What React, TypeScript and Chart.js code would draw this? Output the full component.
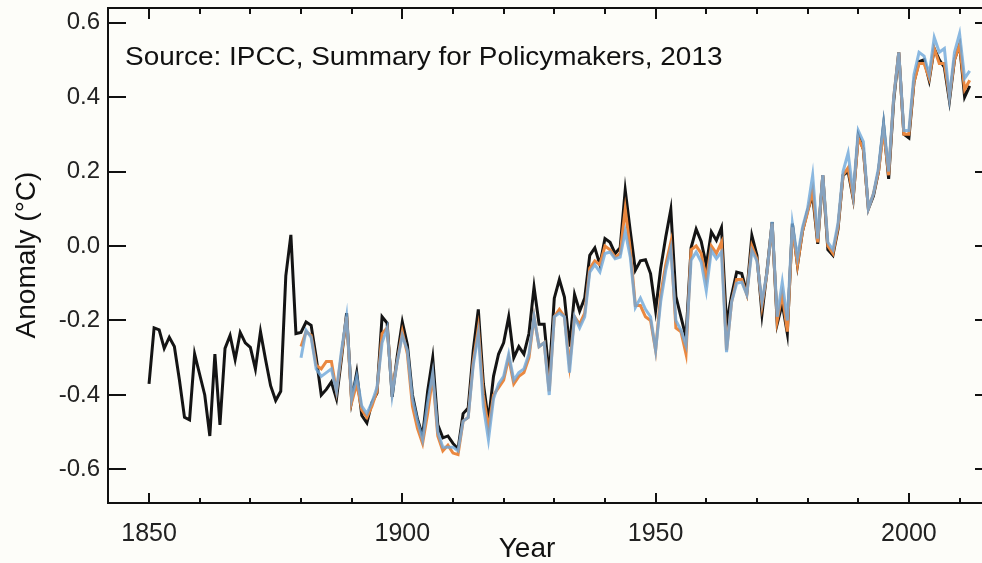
import React, { useEffect, useRef } from "react";
import { Chart, registerables } from "chart.js";

Chart.register(...registerables);

// ---- data ----
const firstYear = 1850;
const seriesStartYear = 1880;

// HadCRUT4-like (black), 1850-2012
const blackSeries = [
  -0.37, -0.22, -0.225, -0.275, -0.245, -0.27, -0.36, -0.46, -0.467, -0.29,
  -0.345, -0.4, -0.51, -0.29, -0.48, -0.275, -0.24, -0.305, -0.232, -0.26,
  -0.272, -0.33, -0.23, -0.305, -0.375, -0.415, -0.39, -0.08, 0.03, -0.235,
  -0.232, -0.204, -0.213, -0.3, -0.4, -0.385, -0.365, -0.41, -0.3, -0.18,
  -0.415, -0.34, -0.455, -0.475, -0.42, -0.395, -0.19, -0.207, -0.405, -0.295,
  -0.204, -0.265, -0.4, -0.465, -0.51, -0.39, -0.3, -0.48, -0.515, -0.51,
  -0.53, -0.545, -0.45, -0.435, -0.28, -0.17, -0.37, -0.47, -0.35, -0.29,
  -0.26, -0.19, -0.3, -0.27, -0.29, -0.235, -0.11, -0.21, -0.21, -0.35,
  -0.14, -0.09, -0.137, -0.27, -0.13, -0.175, -0.14, -0.025, -0.005, -0.05,
  0.02, 0.01, -0.02, -0.005, 0.15, 0.04, -0.065, -0.04, -0.037, -0.074,
  -0.173, -0.06, 0.024, 0.098, -0.135, -0.19, -0.245, -0.005, 0.045, 0.012,
  -0.052, 0.038, 0.015, 0.049, -0.21, -0.132, -0.07, -0.074, -0.125, 0.028,
  -0.025, -0.182, -0.065, 0.064, -0.209, -0.155, -0.235, 0.06, -0.052, 0.04,
  0.095, 0.136, 0.006, 0.19, -0.01, -0.025, 0.045, 0.19, 0.2, 0.127,
  0.297, 0.26, 0.1, 0.135, 0.2, 0.325, 0.18, 0.39, 0.52, 0.3,
  0.29, 0.44, 0.495, 0.5, 0.445, 0.53, 0.5, 0.48, 0.39, 0.5,
  0.54, 0.4, 0.43,
];

// orange series, 1880-2012
const orangeSeries = [
  -0.27, -0.23, -0.24, -0.32, -0.33, -0.31, -0.31, -0.39, -0.29, -0.19,
  -0.42, -0.37, -0.44, -0.46, -0.43, -0.39, -0.235, -0.22, -0.39, -0.31,
  -0.23, -0.29, -0.43, -0.49, -0.53, -0.45, -0.35, -0.51, -0.55, -0.535,
  -0.556, -0.56, -0.47, -0.46, -0.31, -0.22, -0.4, -0.49, -0.4, -0.38,
  -0.36, -0.3, -0.37, -0.35, -0.34, -0.3, -0.19, -0.27, -0.26, -0.39,
  -0.19, -0.17, -0.19, -0.32, -0.19, -0.21, -0.18, -0.06, -0.04, -0.05,
  0.0, -0.01, -0.03, -0.02, 0.1, -0.01, -0.16, -0.16, -0.19, -0.2,
  -0.28, -0.13, -0.05, 0.01, -0.22, -0.23, -0.29, -0.01, 0.0, -0.02,
  -0.09, 0.0, -0.02, 0.01, -0.28, -0.15, -0.09, -0.09, -0.13, 0.0,
  -0.035, -0.16, -0.07, 0.06, -0.2, -0.13, -0.23, 0.05, -0.05, 0.04,
  0.09, 0.15, 0.01, 0.19, 0.0, -0.02, 0.05, 0.19, 0.21, 0.13,
  0.29, 0.26, 0.1, 0.14, 0.2, 0.31, 0.19, 0.4, 0.52, 0.3,
  0.3, 0.44, 0.49, 0.49, 0.45, 0.53, 0.49, 0.49, 0.4, 0.5,
  0.54, 0.42, 0.445,
];

// blue series, 1880-2012
const blueSeries = [
  -0.3, -0.226, -0.245, -0.33, -0.35, -0.34, -0.33, -0.39, -0.28, -0.19,
  -0.41, -0.35, -0.43, -0.45, -0.42, -0.38, -0.26, -0.22, -0.4, -0.31,
  -0.24, -0.28, -0.41, -0.47, -0.52, -0.42, -0.34, -0.5, -0.54, -0.54,
  -0.54, -0.55, -0.47, -0.46, -0.32, -0.235, -0.43, -0.52, -0.41, -0.37,
  -0.35, -0.29, -0.36, -0.34, -0.33, -0.29, -0.19, -0.27, -0.26, -0.4,
  -0.19, -0.18, -0.19, -0.34, -0.19, -0.22, -0.19, -0.07, -0.05, -0.07,
  -0.02, -0.016, -0.034, -0.03, 0.04, -0.03, -0.165, -0.14, -0.17, -0.19,
  -0.28, -0.15, -0.065, -0.007, -0.2, -0.226, -0.267, -0.038, -0.016, -0.043,
  -0.12, -0.012, -0.034, -0.016, -0.285, -0.15, -0.1, -0.097, -0.13, -0.012,
  -0.04, -0.15, -0.07, 0.065, -0.19, -0.097, -0.2, 0.06, -0.03, 0.05,
  0.1, 0.19, 0.02, 0.19, 0.01, -0.01, 0.06, 0.2, 0.25, 0.14,
  0.31, 0.28, 0.1, 0.14, 0.21, 0.33, 0.2, 0.4, 0.52, 0.31,
  0.31, 0.46, 0.52, 0.51, 0.46, 0.56, 0.52, 0.53, 0.4, 0.52,
  0.57, 0.45, 0.47,
];

const yTickValues = [-0.6, -0.4, -0.2, 0.0, 0.2, 0.4, 0.6];
const xLabelYears = [1850, 1900, 1950, 2000];
const decadeTickYears = [
  1850, 1860, 1870, 1880, 1890, 1900, 1910, 1920, 1930, 1940, 1950, 1960,
  1970, 1980, 1990, 2000, 2010,
];

const sourceText = "Source: IPCC, Summary for Policymakers, 2013";
const xTitle = "Year";
const yTitle = "Anomaly (°C)";

const FONT = '"Liberation Sans", Arial, Helvetica, sans-serif';
const BG = "#fdfdf9";

function toPoints(values: number[], start: number) {
  return values.map((v, i) => ({ x: start + i, y: v }));
}

function zeroPadding(scale: any) {
  scale.paddingTop = 0;
  scale.paddingBottom = 0;
  scale.paddingLeft = 0;
  scale.paddingRight = 0;
}

export default function App() {
  const ref = useRef<HTMLCanvasElement>(null);

  useEffect(() => {
    const canvas = ref.current;
    if (!canvas) return;

    const framePlugin = {
      id: "frame",
      beforeDraw(chart: any) {
        const { ctx, width, height } = chart;
        ctx.save();
        ctx.fillStyle = BG;
        ctx.fillRect(0, 0, width, height);
        ctx.restore();
      },
      afterDatasetsDraw(chart: any) {
        const { ctx, chartArea: a, scales } = chart;
        const xs = scales.x;
        const ys = scales.y;
        ctx.save();
        ctx.strokeStyle = "#111";
        ctx.lineWidth = 2;
        ctx.lineCap = "butt";
        ctx.strokeRect(a.left, a.top, a.right - a.left, a.bottom - a.top);
        ctx.beginPath();
        for (const v of yTickValues) {
          const py = Math.round(ys.getPixelForValue(v));
          ctx.moveTo(a.left, py);
          ctx.lineTo(a.left + 18, py);
          ctx.moveTo(a.right, py);
          ctx.lineTo(a.right - 18, py);
        }
        for (const yr of decadeTickYears) {
          const px = Math.round(xs.getPixelForValue(yr));
          const len = yr % 50 === 0 ? 10 : 5;
          ctx.moveTo(px, a.bottom);
          ctx.lineTo(px, a.bottom - len);
          ctx.moveTo(px, a.top);
          ctx.lineTo(px, a.top + len + 1);
        }
        ctx.stroke();

        ctx.fillStyle = "#111";
        ctx.textBaseline = "alphabetic";
        ctx.textAlign = "left";
        ctx.font = `26px ${FONT}`;
        ctx.save();
        ctx.translate(125, 65);
        ctx.scale(1.074, 1);
        ctx.fillText(sourceText, 0, 0);
        ctx.restore();

        ctx.font = `28px ${FONT}`;
        ctx.textAlign = "center";
        ctx.fillText(xTitle, 527, 557);

        ctx.save();
        ctx.translate(35, 255);
        ctx.rotate(-Math.PI / 2);
        ctx.fillText(yTitle, 0, 0);
        ctx.restore();
        ctx.restore();
      },
    };

    const chart = new Chart(canvas, {
      type: "line",
      data: {
        datasets: [
          {
            label: "blue",
            data: toPoints(blueSeries, seriesStartYear),
            borderColor: "rgba(112,168,218,0.82)",
            borderWidth: 3,
            pointRadius: 0,
            tension: 0,
            fill: false,
            order: 1,
          },
          {
            label: "orange",
            data: toPoints(orangeSeries, seriesStartYear),
            borderColor: "#ea8840",
            borderWidth: 3,
            pointRadius: 0,
            tension: 0,
            fill: false,
            order: 2,
          },
          {
            label: "black",
            data: toPoints(blackSeries, firstYear),
            borderColor: "#141414",
            borderWidth: 3,
            pointRadius: 0,
            tension: 0,
            fill: false,
            order: 3,
          },
        ],
      },
      options: {
        animation: false,
        responsive: false,
        maintainAspectRatio: false,
        layout: { padding: { top: 8, right: 7, left: 0, bottom: 0 } },
        plugins: {
          legend: { display: false },
          tooltip: { enabled: false },
          title: { display: false },
        },
        scales: {
          x: {
            type: "linear",
            position: "bottom",
            min: 1841.9,
            max: 2016.6,
            grid: { display: false, drawTicks: false },
            border: { display: false },
            afterBuildTicks: (scale: any) => {
              scale.ticks = xLabelYears.map((v) => ({ value: v }));
            },
            afterFit: (scale: any) => {
              scale.height = 60;
              zeroPadding(scale);
            },
            ticks: {
              autoSkip: false,
              maxRotation: 0,
              padding: 16,
              color: "#222",
              font: { family: FONT, size: 25 },
              callback: (v: any) => String(v),
            },
          },
          y: {
            type: "linear",
            position: "left",
            min: -0.69,
            max: 0.639,
            grid: { display: false, drawTicks: false },
            border: { display: false },
            afterBuildTicks: (scale: any) => {
              scale.ticks = yTickValues.map((v) => ({ value: v }));
            },
            afterFit: (scale: any) => {
              scale.width = 108;
              zeroPadding(scale);
            },
            ticks: {
              autoSkip: false,
              padding: 8,
              color: "#222",
              font: { family: FONT, size: 24 },
              callback: (v: any) => Number(v).toFixed(1),
            },
          },
        },
      },
      plugins: [framePlugin],
    } as any);

    return () => chart.destroy();
  }, []);

  return (
    <div
      style={{
        position: "fixed",
        left: 0,
        top: 0,
        width: 982,
        height: 563,
        overflow: "hidden",
        background: BG,
      }}
    >
      <canvas
        ref={ref}
        width={1000}
        height={563}
        style={{ display: "block", width: 1000, height: 563 }}
      />
    </div>
  );
}
